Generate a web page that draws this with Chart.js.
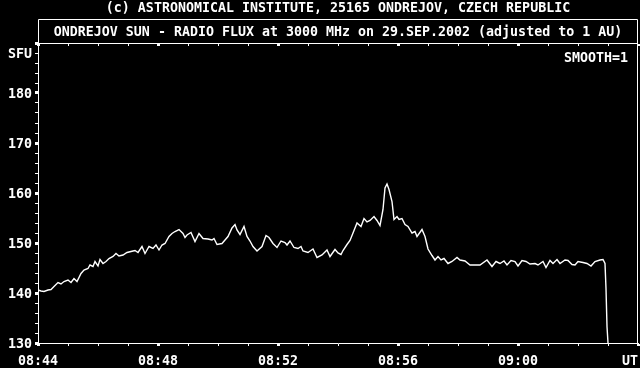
<!DOCTYPE html>
<html>
<head>
<meta charset="utf-8">
<script src="https://cdn.jsdelivr.net/npm/chart.js@4/dist/chart.umd.min.js"></script>
<style>
html,body{margin:0;padding:0;background:#000;}
canvas{display:block;background:#000;}
</style>
</head>
<body>
<canvas id="c" width="640" height="368"></canvas>
<script>
// ---- data (time in seconds after 08:44:00 UT, flux in SFU) ----
const timesSec = [0,6,12,20,26,32,40,46,52,60,66,72,78,86,92,100,104,110,114,120,124,130,136,142,150,156,162,170,178,186,194,200,208,214,222,230,236,242,248,254,262,268,274,282,290,294,298,306,314,322,330,340,348,352,358,368,374,380,388,394,398,404,412,418,424,430,438,448,456,462,470,478,486,494,498,504,512,520,526,530,540,550,558,568,578,584,594,600,606,610,618,624,630,638,646,652,658,664,672,678,684,690,694,698,702,708,712,718,722,728,734,740,748,754,758,768,774,780,788,794,800,806,812,820,828,838,844,854,864,874,884,898,908,916,924,932,938,946,954,960,968,976,984,994,1000,1010,1016,1024,1030,1038,1044,1054,1060,1068,1074,1080,1090,1098,1106,1114,1124,1130,1134,1136,1138,1140];
const fluxSfu = [140.6,140.4,140.3,140.6,140.7,141.3,142.1,141.8,142.3,142.6,142.1,142.9,142.3,143.9,144.6,144.9,145.6,145.3,146.3,145.4,146.7,145.9,146.3,146.9,147.3,147.9,147.4,147.6,148.1,148.3,148.5,148.1,149.3,147.9,149.3,148.9,149.6,148.6,149.6,149.9,151.3,151.9,152.3,152.7,151.9,151.1,151.6,152.1,150.3,151.9,150.9,150.8,150.6,150.9,149.7,149.9,150.6,151.3,153.0,153.7,152.6,151.7,153.3,151.3,150.4,149.3,148.4,149.3,151.5,151.1,149.9,149.1,150.4,150.1,149.6,150.4,149.1,148.9,149.3,148.4,148.1,148.8,147.1,147.6,148.6,147.3,148.7,148.0,147.7,148.5,149.7,150.5,152.0,154.0,153.3,154.9,154.2,154.5,155.3,154.5,153.5,156.7,161.0,161.8,160.7,158.3,154.7,155.3,154.7,154.9,153.7,153.3,152.0,152.3,151.3,152.7,151.3,148.8,147.5,146.6,147.3,146.6,146.9,145.9,146.3,147.1,146.6,146.4,145.6,145.6,145.6,146.6,145.3,146.3,145.9,146.4,145.6,146.5,146.3,145.4,146.5,146.3,145.8,145.9,145.6,146.3,145.1,146.5,145.9,146.7,145.9,146.6,146.5,145.7,145.6,146.3,146.1,145.9,145.4,146.3,146.6,146.7,145.9,140.9,133.3,130.0];
const xTickLabels = ['08:44','08:48','08:52','08:56','09:00'];
const yTickLabels = ['130','140','150','160','170','180'];
const yUnitLabel = 'SFU';
const xUnitLabel = 'UT';
const titleLine1 = '(c) ASTRONOMICAL INSTITUTE, 25165 ONDREJOV, CZECH REPUBLIC';
const titleLine2 = 'ONDREJOV SUN - RADIO FLUX at 3000 MHz on 29.SEP.2002 (adjusted to 1 AU)';
const smoothLabel = 'SMOOTH=1';

const FONT = {family: '"DejaVu Sans Mono", "Liberation Mono", monospace', size: 13.3, weight: 'bold', lineHeight: '14px'};
const WHITE = '#ffffff';

const framePlugin = {
  id: 'frame',
  afterDraw(chart) {
    const ctx = chart.ctx;
    const a = chart.chartArea;
    const boxTop = chart.titleBlock ? chart.titleBlock.bottom : 19;
    const L = Math.round(a.left) + 0.5, R = Math.round(a.right) - 0.5;
    const T = Math.round(a.top) + 0.5, B = Math.round(boxTop) + 0.5;
    ctx.save();
    ctx.strokeStyle = WHITE;
    ctx.lineWidth = 1;
    ctx.beginPath();
    ctx.moveTo(L, B); ctx.lineTo(R, B);
    ctx.moveTo(L, T); ctx.lineTo(R, T);
    ctx.moveTo(L, B); ctx.lineTo(L, a.top);
    ctx.moveTo(R, B); ctx.lineTo(R, Math.round(a.bottom) + 0.5);
    ctx.stroke();
    // inward ticks along the top edge, from the x scale
    const xs = chart.scales.x;
    ctx.fillStyle = WHITE;
    xs.ticks.forEach(t => {
      const px = Math.round(xs.getPixelForValue(t.value));
      const major = t.value % 240 === 0;
      if (major) ctx.fillRect(px - 1, Math.round(a.top) + 1, 3, 2);
      else ctx.fillRect(px, Math.round(a.top) + 1, 1, 2);
    });
    // smooth label
    ctx.font = 'bold 13.3px "DejaVu Sans Mono", monospace';
    ctx.textAlign = 'right';
    ctx.textBaseline = 'middle';
    ctx.fillText(smoothLabel, a.right - 10, a.top + 16);
    ctx.restore();
  }
};

const chart = new Chart(document.getElementById('c'), {
  type: 'line',
  data: {
    datasets: [{
      data: timesSec.map((t, i) => ({x: t, y: fluxSfu[i]})),
      borderColor: WHITE,
      borderWidth: 1.4,
      pointRadius: 0,
      tension: 0,
      fill: false
    }]
  },
  options: {
    responsive: false,
    animation: false,
    layout: {padding: {right: 2, left: 0, top: 0, bottom: 0}},
    plugins: {
      legend: {display: false},
      tooltip: {enabled: false},
      title: {display: true, text: titleLine1, color: WHITE, font: FONT, fullSize: false, padding: {top: 2, bottom: 3}},
      subtitle: {display: true, text: titleLine2, color: WHITE, font: FONT, fullSize: false, padding: {top: 7, bottom: 3}}
    },
    scales: {
      x: {
        type: 'linear',
        min: 0, max: 1200,
        afterFit(s) { s.height = 25; s.paddingLeft = 0; s.paddingRight = 0; },
        border: {display: true, color: WHITE, width: 1},
        grid: {display: true, drawOnChartArea: false, drawTicks: true, tickLength: 3, tickColor: WHITE, color: WHITE,
               tickWidth: c => (c.tick && c.tick.value % 240 === 0) ? 3 : 1},
        ticks: {stepSize: 60, maxTicksLimit: 100, autoSkip: false, maxRotation: 0, color: WHITE, font: FONT, padding: 9,
                callback: v => (v % 240 === 0 && v / 240 < xTickLabels.length) ? xTickLabels[v / 240] : ''},
        title: {display: true, text: xUnitLabel, align: 'end', color: WHITE, font: FONT, padding: {top: 0, bottom: -1}}
      },
      y: {
        type: 'linear',
        min: 130, max: 190,
        afterFit(s) { s.width = 38; },
        border: {display: true, color: WHITE, width: 1},
        grid: {display: true, drawOnChartArea: false, drawTicks: true, tickLength: 3, tickColor: WHITE, color: WHITE,
               tickWidth: c => (c.tick && c.tick.value % 10 === 0) ? 3 : 1},
        ticks: {stepSize: 2, maxTicksLimit: 100, autoSkip: false, color: WHITE, font: FONT, padding: 3, labelOffset: 2,
                callback: v => {
                  const i = (v - 130) / 10;
                  if (Number.isInteger(i) && i < yTickLabels.length) return yTickLabels[i];
                  if (v === 188) return yUnitLabel;
                  return '';
                }}
      }
    }
  },
  plugins: [framePlugin]
});
</script>
</body>
</html>
